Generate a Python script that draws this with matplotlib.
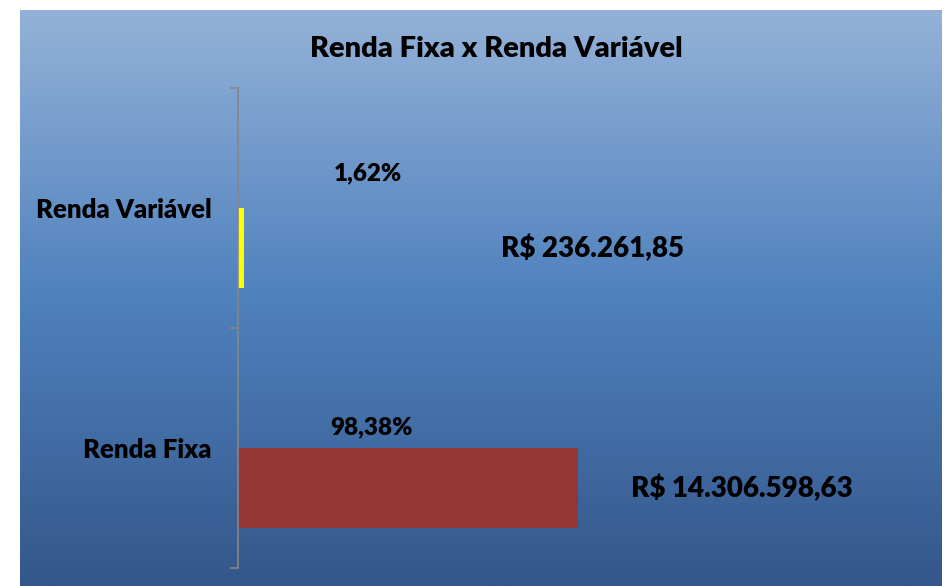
import numpy as np
import matplotlib.pyplot as plt
from matplotlib.colors import LinearSegmentedColormap

plt.rcParams['font.family'] = ['Lato', 'DejaVu Sans']

# data
categorias = ['Renda Fixa', 'Renda Variável']
valores = [14306598.63, 236261.85]
percentuais = [98.38, 1.62]
cor_barras = ['#953735', '#FFFF00']

def brl(v):
    s = '{:,.2f}'.format(v)
    return 'R$ ' + s.replace(',', '#').replace('.', ',').replace('#', '.')

W, H = 948, 586
fig = plt.figure(figsize=(W/100., H/100.), dpi=100)

# fundo em gradiente (area do grafico)
bg = fig.add_axes([20./W, 0, (942-20.)/W, (H-9.5)/H])
grad = LinearSegmentedColormap.from_list('g', ['#94B2D8', '#4F81BD', '#34578A'])
bg.imshow(np.linspace(0, 1, 256).reshape(-1, 1), aspect='auto', cmap=grad,
          extent=[0, 1, 0, 1], origin='upper')
bg.axis('off')

# area de plotagem
x0, x1, ytop, ybot = 238., 942., 88., 568.
ax = fig.add_axes([x0/W, 1-ybot/H, (x1-x0)/W, (ybot-ytop)/H])
ax.patch.set_alpha(0)
escala = 340. / valores[0]          # px por real
ax.set_xlim(0, (x1-x0)/escala)
ax.set_ylim(-0.5, 1.5)

y = np.arange(len(categorias))
desloc = 1/6.
alt = 1/3.
ax.barh(y - desloc, valores, height=alt, color=cor_barras, left=0)

for spine in ['top', 'right', 'bottom']:
    ax.spines[spine].set_visible(False)
ax.spines['left'].set_color('#868686')
ax.spines['left'].set_linewidth(1.2)
ax.set_xticks([])
ax.set_yticks(y)
ax.set_yticklabels(categorias, fontsize=18.5, fontweight='heavy')
ax.tick_params(axis='y', which='major', length=0, pad=19)
ax.set_yticks([-0.5, 0.5, 1.5], minor=True)
ax.tick_params(axis='y', which='minor', length=6, width=1.2, color='#868686')

# rotulos (posicoes ajustadas a mao como no original)
pos_pct = [(0.190, 0.088), (0.185, 0.144)]
pos_val = [0.716, 0.504]
for i in range(len(categorias)):
    px, dy = pos_pct[i]
    ax.text(px, y[i] + dy, '{:.2f}%'.format(percentuais[i]).replace('.', ','),
            transform=ax.get_yaxis_transform(), ha='center', va='center',
            fontsize=17.5, fontweight='heavy')
    ax.text(pos_val[i], y[i] - desloc, brl(valores[i]),
            transform=ax.get_yaxis_transform(), ha='center', va='center',
            fontsize=20, fontweight='heavy')

fig.text(496./W, 1-49./H, 'Renda Fixa x Renda Variável', ha='center', va='center',
         fontsize=21, fontweight='heavy')

fig.savefig('out.png', dpi=100)
